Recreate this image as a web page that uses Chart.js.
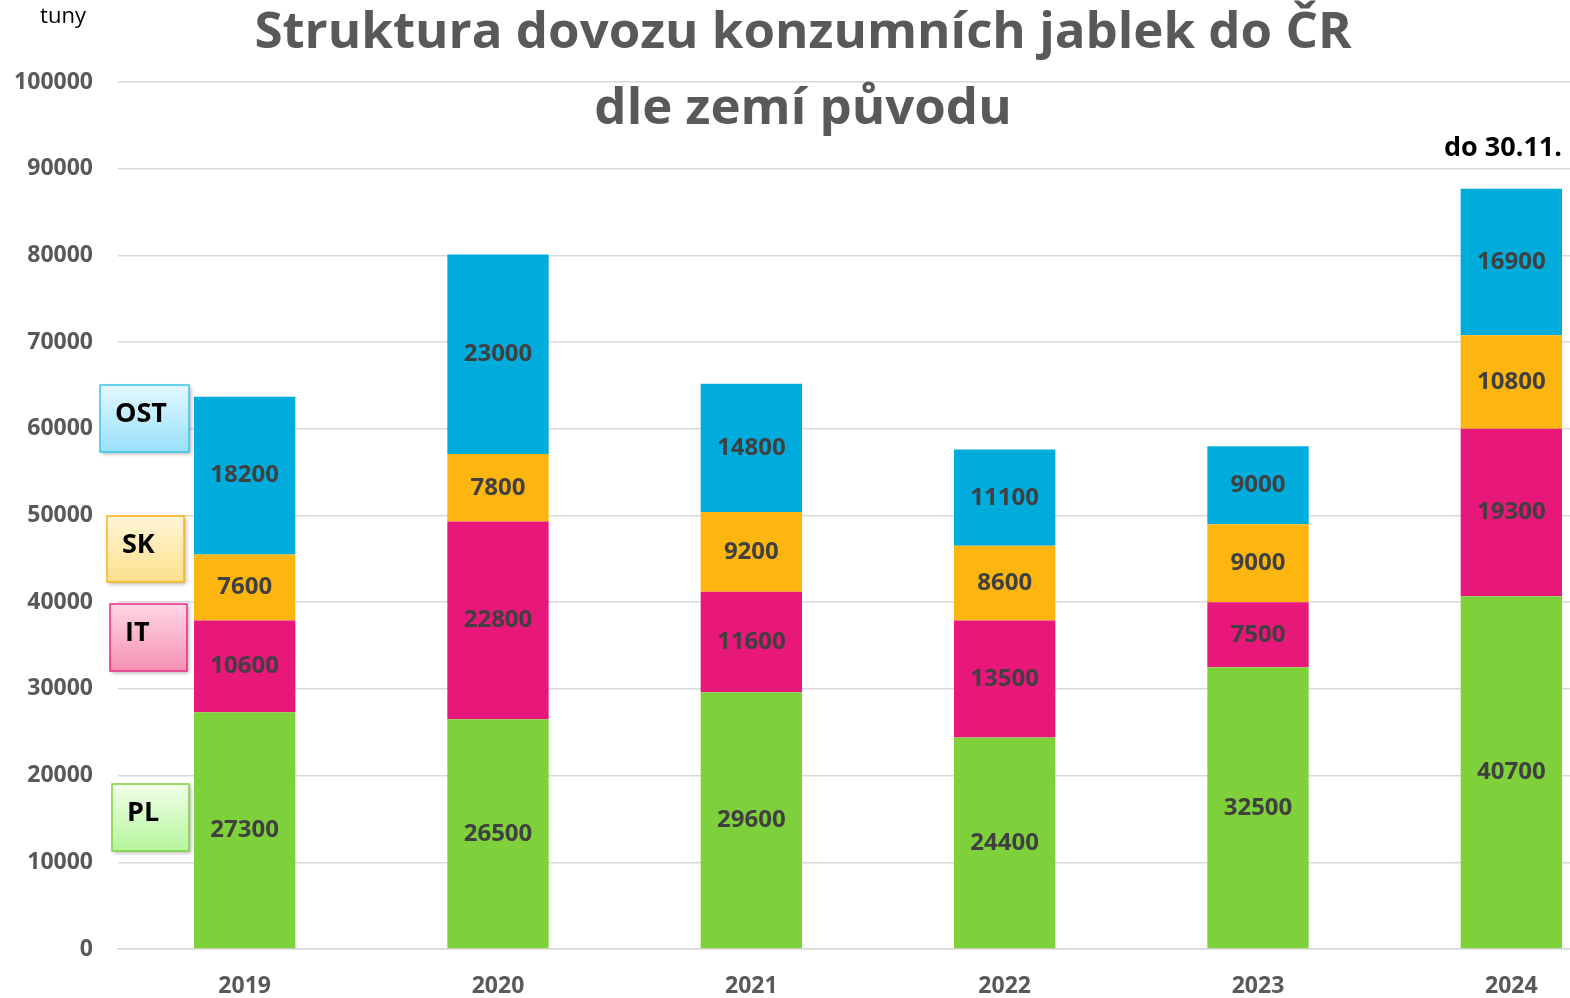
<!DOCTYPE html>
<html>
<head>
<meta charset="utf-8">
<script src="https://cdn.jsdelivr.net/npm/chart.js@4"></script>
<style>
  body { margin: 0; overflow: hidden; background: #fff; }
  #wrap { width: 1638px; height: 998px; }
</style>
</head>
<body>
<div id="wrap"><canvas id="bar-chart"></canvas></div>
<script>
const years = ["2019", "2020", "2021", "2022", "2023", "2024"];
const pl  = [27300, 26500, 29600, 24400, 32500, 40700];
const it  = [10600, 22800, 11600, 13500, 7500, 19300];
const sk  = [7600, 7800, 9200, 8600, 9000, 10800];
const ost = [18200, 23000, 14800, 11100, 9000, 16900];

const FONT = "'Open Sans', sans-serif";

// value labels in the middle of each segment
const segLabels = {
  id: 'segLabels',
  afterDatasetsDraw(chart) {
    const ctx = chart.ctx;
    ctx.save();
    ctx.font = "bold 24px " + FONT;
    ctx.fillStyle = "#404040";
    ctx.textAlign = "center";
    ctx.textBaseline = "middle";
    chart.data.datasets.forEach((ds, i) => {
      chart.getDatasetMeta(i).data.forEach((bar, j) => {
        ctx.fillText(ds.data[j], bar.x, (bar.y + bar.base) / 2);
      });
    });
    ctx.restore();
  }
};

// title, unit, note and the country boxes
const extras = {
  id: 'extras',
  afterDraw(chart) {
    const ctx = chart.ctx;
    ctx.save();
    ctx.fillStyle = "#595959";
    ctx.textAlign = "center";
    ctx.textBaseline = "middle";
    ctx.font = "bold 51px " + FONT;
    ctx.fillText("Struktura dovozu konzumních jablek do ČR", 803, 33);
    ctx.fillText("dle zemí původu", 803, 109);

    ctx.fillStyle = "#000";
    ctx.font = "22px " + FONT;
    ctx.fillText("tuny", 63, 17);
    ctx.font = "bold 27px " + FONT;
    ctx.textAlign = "right";
    ctx.fillText("do 30.11.", 1562, 148);

    const boxes = [
      { t: "OST", x: 100, y: 385, w: 89, h: 67, c1: "#e4f8ff", c2: "#98e0fa", b: "#3cc3ec" },
      { t: "SK",  x: 107, y: 516, w: 77, h: 66, c1: "#fff5d8", c2: "#fde08a", b: "#fcb415" },
      { t: "IT",  x: 110, y: 604, w: 77, h: 67, c1: "#ffd6e5", c2: "#f490b3", b: "#ea2a83" },
      { t: "PL",  x: 112, y: 784, w: 77, h: 67, c1: "#f0ffe9", c2: "#b6f49c", b: "#7fd13b" }
    ];
    boxes.forEach(bx => {
      ctx.save();
      ctx.shadowColor = "rgba(0,0,0,0.3)";
      ctx.shadowBlur = 4;
      ctx.shadowOffsetX = 2;
      ctx.shadowOffsetY = 2;
      const g = ctx.createLinearGradient(0, bx.y, 0, bx.y + bx.h);
      g.addColorStop(0, bx.c1);
      g.addColorStop(1, bx.c2);
      ctx.fillStyle = g;
      ctx.fillRect(bx.x, bx.y, bx.w, bx.h);
      ctx.restore();
      ctx.strokeStyle = bx.b;
      ctx.lineWidth = 1.5;
      ctx.strokeRect(bx.x, bx.y, bx.w, bx.h);
      ctx.fillStyle = "#000";
      ctx.font = "bold 27px " + FONT;
      ctx.textAlign = "left";
      ctx.fillText(bx.t, bx.x + 15, bx.y + 29);
    });
    ctx.restore();
  }
};

new Chart(document.getElementById("bar-chart"), {
  type: 'bar',
  data: {
    labels: years,
    datasets: [
      { label: "PL",  data: pl,  backgroundColor: "#7fd13b" },
      { label: "IT",  data: it,  backgroundColor: "#e8177a" },
      { label: "SK",  data: sk,  backgroundColor: "#fdb50f" },
      { label: "OST", data: ost, backgroundColor: "#00acdc" }
    ]
  },
  options: {
    responsive: true,
    maintainAspectRatio: false,
    animation: false,
    layout: { padding: { top: 82, left: 0, right: 0, bottom: 0 } },
    datasets: { bar: { categoryPercentage: 1, barPercentage: 0.4, borderWidth: 0 } },
    plugins: {
      legend: { display: false },
      title: { display: false },
      tooltip: { enabled: false }
    },
    scales: {
      x: {
        stacked: true,
        grid: { display: false },
        border: { color: "#d9d9d9", width: 1.5 },
        ticks: { color: "#595959", font: { family: FONT, weight: 'bold', size: 23 }, padding: 16 },
        afterFit(s) { s.height = 49; }
      },
      y: {
        stacked: true,
        min: 0,
        max: 100000,
        grid: { color: "#d9d9d9", lineWidth: 1.5, drawTicks: false },
        border: { display: false },
        ticks: {
          stepSize: 10000,
          color: "#595959",
          font: { family: FONT, weight: 'bold', size: 23 },
          padding: 25,
          callback: v => String(v)
        },
        afterFit(s) { s.width = 118; }
      }
    }
  },
  plugins: [segLabels, extras]
});
</script>
</body>
</html>
